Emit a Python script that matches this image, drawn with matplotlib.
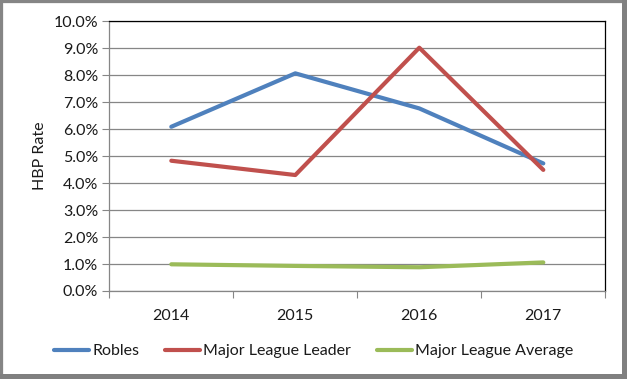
import matplotlib
matplotlib.use("Agg")
import matplotlib.pyplot as plt
import matplotlib.patches as mpatches
from matplotlib.ticker import FuncFormatter, FixedLocator

# --- data (HBP rate, %) ---
years = ["2014", "2015", "2016", "2017"]
robles = [6.09, 8.07, 6.77, 4.73]
leader = [4.83, 4.30, 9.02, 4.49]
league_avg = [0.99, 0.93, 0.88, 1.06]

plt.rcParams["font.family"] = ["Lato", "DejaVu Sans"]

W, H = 627, 379
FS = 11.5
fig = plt.figure(figsize=(W / 100, H / 100), dpi=100)
fig.patch.set_facecolor("white")

# outer frame with heavier right/bottom edge (shadow look)
fig.patches.append(mpatches.Rectangle((0, 0), 1, 1, transform=fig.transFigure,
                                      facecolor="none", edgecolor="#858585",
                                      linewidth=4.5, zorder=10))
fig.patches.append(mpatches.Rectangle((622 / W, 0), 5 / W, 1, transform=fig.transFigure,
                                      facecolor="#808080", edgecolor="none", zorder=10))
fig.patches.append(mpatches.Rectangle((0, 0), 1, 5 / H, transform=fig.transFigure,
                                      facecolor="#808080", edgecolor="none", zorder=10))

left, right = 109.3 / W, 605.3 / W
bottom, top = 1 - 291 / H, 1 - 21.3 / H
ax = fig.add_axes([left, bottom, right - left, top - bottom])

x = list(range(len(years)))
ax.plot(x, robles, color="#4F81BD", lw=3, solid_capstyle="round", label="Robles", zorder=3)
ax.plot(x, leader, color="#C0504D", lw=3, solid_capstyle="round", label="Major League Leader", zorder=3)
ax.plot(x, league_avg, color="#9BBB59", lw=3, solid_capstyle="round", label="Major League Average", zorder=3)

ax.set_xlim(-0.5, len(years) - 0.5)
ax.set_ylim(0, 10)
ax.set_yticks(range(0, 11))
ax.yaxis.set_major_formatter(FuncFormatter(lambda v, p: f"{v:.1f}%"))
ax.set_ylabel("HBP Rate", fontsize=FS, color="#1a1a1a", labelpad=5)

# categories between boundary ticks
ax.xaxis.set_major_locator(FixedLocator([i - 0.5 for i in range(len(years) + 1)]))
ax.xaxis.set_minor_locator(FixedLocator(x))
ax.set_xticklabels([])
ax.set_xticklabels(years, minor=True)
ax.tick_params(axis="x", which="major", length=5, color="#868686", width=0.8)
ax.tick_params(axis="x", which="minor", length=0, pad=13, labelsize=FS, labelcolor="#1a1a1a")
ax.tick_params(axis="y", length=5, color="#868686", width=0.8, labelsize=FS,
               labelcolor="#1a1a1a", pad=3)

ax.grid(axis="y", color="#868686", lw=0.9, zorder=1)
ax.set_axisbelow(True)
ax.spines["left"].set_color("#868686")
ax.spines["bottom"].set_color("#868686")
ax.spines["top"].set_color("black")
ax.spines["right"].set_color("black")
for s in ax.spines.values():
    s.set_linewidth(0.9)

fig.legend(loc="center", bbox_to_anchor=(0.5, 1 - 351 / H), ncol=3, frameon=False,
           fontsize=FS, handlelength=2.2, handletextpad=0.2, columnspacing=1.6,
           labelcolor="#1a1a1a")

fig.savefig("out.png", dpi=100)
